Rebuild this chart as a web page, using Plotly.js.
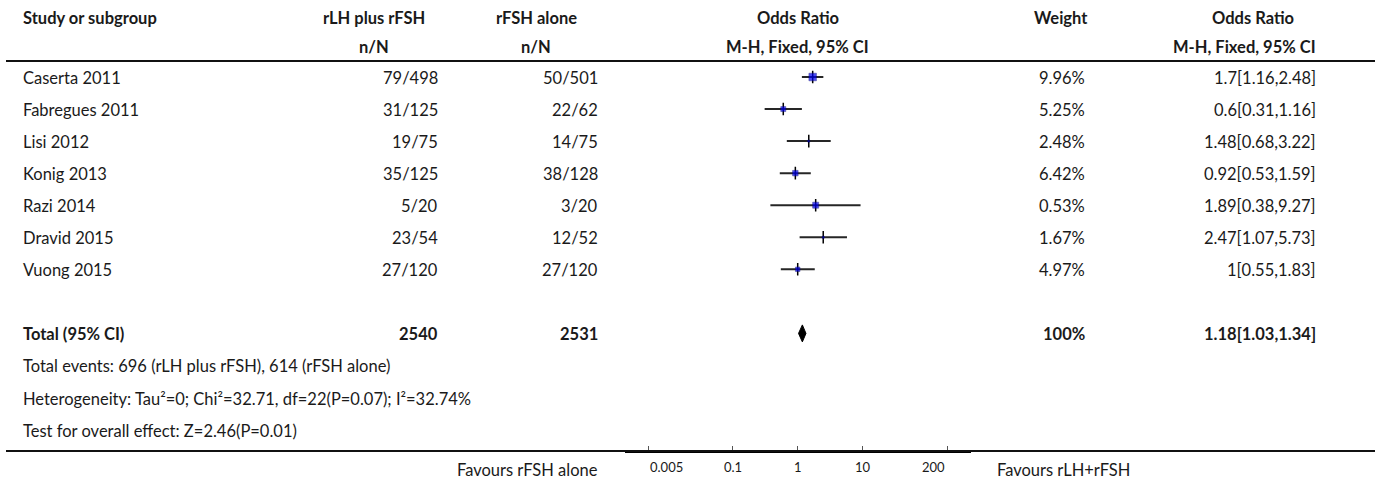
<!DOCTYPE html>
<html>
<head>
<meta charset="utf-8">
<script src="https://cdn.plot.ly/plotly-3.0.1.min.js"></script>
<style>
  html, body { margin: 0; padding: 0; background: #fff; }
  #forest { width: 1375px; height: 482px; }
</style>
</head>
<body>
<div id="forest"></div>
<script>
// ---- study data ----
const studies   = ['Caserta 2011', 'Fabregues 2011', 'Lisi 2012', 'Konig 2013', 'Razi 2014', 'Dravid 2015', 'Vuong 2015'];
const eventsLH  = [79, 31, 19, 35, 5, 23, 27];
const totalLH   = [498, 125, 75, 125, 20, 54, 120];
const eventsFSH = [50, 22, 14, 38, 3, 12, 27];
const totalFSH  = [501, 62, 75, 128, 20, 52, 120];
const weights   = [9.96, 5.25, 2.48, 6.42, 0.53, 1.67, 4.97];
const oddsRatio = [1.7, 0.6, 1.48, 0.92, 1.89, 2.47, 1];
const ciLow     = [1.16, 0.31, 0.68, 0.53, 0.38, 1.07, 0.55];
const ciHigh    = [2.48, 1.16, 3.22, 1.59, 9.27, 5.73, 1.83];

// ---- pooled result ----
const pooledN      = [2540, 2531];
const pooledEvents = [696, 614];
const pooledWeight = 100;
const pooledOR     = [1.18, 1.03, 1.34];   // estimate, lower, upper
const heterogeneity = 'Heterogeneity: Tau\u00b2=0; Chi\u00b2=32.71, df=22(P=0.07); I\u00b2=32.74%';
const overallEffect = 'Test for overall effect: Z=2.46(P=0.01)';

// ---- axis ticks ----
const tickValues = [0.005, 0.1, 1, 10, 200];
const tickLabels = ['0.005', '0.1', '1', '10', '200'];

// ---- styling ----
const W = 1375, H = 482;
const FONT = 'Lato, "Source Sans Pro", "Noto Sans", sans-serif';
const FS = 16.5;
const TXT = '#1a1a1a';
const boxPx = [7.5, 5, 2, 5.5, 6, 2, 4.5];    // drawn box size per study
const tickAnchor = ['left', 'center', 'center', 'center', 'right'];
const ROW0 = 77, ROW_H = 32.05;               // pixel centre of first row, row pitch
const TOP_RULE = 61, AXIS_Y = 451;            // pixel rows of the two rules
const totalRow = studies.length + 1;

const px = v => v / W;
const py = v => 1 - v / H;
const rowAt = p => (p - ROW0) / ROW_H;

const colStudyX = 21, colLH = 440, colFSH = 600, colW = 1087, colOR = 1318;
const hdrLH = 374, hdrFSH = 536, hdrPlot = 797.7, hdrW = 1061, hdrOR = 1253;

// ---- marks ----
const ciX = [], ciY = [];
studies.forEach((s, i) => { ciX.push(ciLow[i], ciHigh[i], null); ciY.push(i, i, null); });
const rows = studies.map((s, i) => i);

const DIA_H = 8.5 / ROW_H;
const traces = [
  { type: 'scatter', mode: 'lines', x: ciX, y: ciY, hoverinfo: 'skip',
    line: { color: '#262626', width: 2 } },
  { type: 'scatter', mode: 'markers', x: oddsRatio, y: rows, hoverinfo: 'skip',
    marker: { symbol: 'line-ns', size: 9, line: { color: '#000', width: 1.5 } } },
  { type: 'scatter', mode: 'markers', x: oddsRatio, y: rows, hoverinfo: 'skip',
    marker: { symbol: 'square', size: boxPx, color: '#0000f0', line: { color: '#00007a', width: 0.6 } } },
  { type: 'scatter', mode: 'lines', fill: 'toself', fillcolor: '#000', hoverinfo: 'skip',
    x: [pooledOR[1], pooledOR[0], pooledOR[2], pooledOR[0], pooledOR[1]],
    y: [totalRow, totalRow - DIA_H, totalRow, totalRow + DIA_H, totalRow],
    line: { color: '#000', width: 1 } }
];

// ---- text ----
const ann = [];
function txt(text, x, y, anchor) {
  ann.push({
    text, x: px(x), y, xref: 'paper', yref: 'y', xanchor: anchor, yanchor: 'middle',
    showarrow: false, font: { family: FONT, size: FS, color: TXT }, yshift: -1
  });
}
function hdr(text, x, pyv, anchor) {
  ann.push({ text: '<b>' + text + '</b>', x: px(x), y: py(pyv), xref: 'paper', yref: 'paper',
    xanchor: anchor, yanchor: 'middle', showarrow: false,
    font: { family: FONT, size: FS, color: TXT } });
}

hdr('Study or subgroup', colStudyX, 18, 'left');
hdr('rLH plus rFSH', hdrLH, 18, 'center');
hdr('n/N', hdrLH, 47, 'center');
hdr('rFSH alone', hdrFSH, 18, 'center');
hdr('n/N', hdrFSH, 47, 'center');
hdr('Odds Ratio', hdrPlot, 18, 'center');
hdr('M-H, Fixed, 95% CI', hdrPlot, 47, 'center');
hdr('Weight', hdrW, 18, 'center');
hdr('Odds Ratio', hdrOR, 18, 'center');
hdr('M-H, Fixed, 95% CI', colOR, 47, 'right');

studies.forEach((s, i) => {
  txt(s, colStudyX, i, 'left');
  txt(eventsLH[i] + '/' + totalLH[i], colLH, i, 'right');
  txt(eventsFSH[i] + '/' + totalFSH[i], colFSH, i, 'right');
  txt(weights[i] + '%', colW, i, 'right');
  txt(oddsRatio[i] + '[' + ciLow[i] + ',' + ciHigh[i] + ']', colOR, i, 'right');
});

txt('<b>Total (95% CI)</b>', colStudyX, totalRow, 'left');
txt('<b>' + pooledN[0] + '</b>', colLH, totalRow, 'right');
txt('<b>' + pooledN[1] + '</b>', colFSH, totalRow, 'right');
txt('<b>' + pooledWeight + '%</b>', colW, totalRow, 'right');
txt('<b>' + pooledOR[0] + '[' + pooledOR[1] + ',' + pooledOR[2] + ']</b>', colOR, totalRow, 'right');
txt('Total events: ' + pooledEvents[0] + ' (rLH plus rFSH), ' + pooledEvents[1] + ' (rFSH alone)', colStudyX, totalRow + 1, 'left');
txt(heterogeneity, colStudyX, totalRow + 2, 'left');
txt(overallEffect, colStudyX, totalRow + 3, 'left');

// tick labels under the log axis
tickValues.forEach((v, i) => {
  ann.push({ text: tickLabels[i], x: Math.log10(v), y: py(466.5), xref: 'x', yref: 'paper',
    xanchor: tickAnchor[i], yanchor: 'middle', showarrow: false,
    font: { family: FONT, size: 13, color: TXT } });
});
ann.push({ text: 'Favours rFSH alone', x: px(colFSH), y: py(470), xref: 'paper', yref: 'paper',
  xanchor: 'right', yanchor: 'middle', showarrow: false, font: { family: FONT, size: FS, color: TXT } });
ann.push({ text: 'Favours rLH+rFSH', x: px(995), y: py(470), xref: 'paper', yref: 'paper',
  xanchor: 'left', yanchor: 'middle', showarrow: false, font: { family: FONT, size: FS, color: TXT } });

const shapes = [
  { type: 'line', xref: 'paper', yref: 'paper', x0: px(6), x1: 1, y0: py(TOP_RULE), y1: py(TOP_RULE),
    line: { color: '#111', width: 2 } },
  { type: 'line', xref: 'paper', yref: 'paper', x0: px(6), x1: 1, y0: py(AXIS_Y), y1: py(AXIS_Y),
    line: { color: '#111', width: 2 } },
  { type: 'line', xref: 'x', yref: 'y domain', x0: 0, x1: 0, y0: 0, y1: 1, layer: 'below',
    line: { color: '#a3a3a3', width: 2 } }
];

const layout = {
  width: W, height: H,
  margin: { l: 0, r: 0, t: 0, b: 0 },
  paper_bgcolor: '#fff', plot_bgcolor: '#fff',
  showlegend: false,
  xaxis: {
    type: 'log', range: [-2.66, 2.66], domain: [px(624.8), px(970.6)],
    showgrid: false, zeroline: false, showline: true, linecolor: '#000', linewidth: 2,
    ticks: 'inside', ticklen: 5, tickwidth: 1, tickcolor: '#555',
    tickvals: tickValues, showticklabels: false, fixedrange: true
  },
  yaxis: {
    range: [rowAt(AXIS_Y), rowAt(TOP_RULE)], domain: [py(AXIS_Y), py(TOP_RULE)],
    visible: false, showgrid: false, zeroline: false, fixedrange: true
  },
  shapes, annotations: ann
};

Plotly.newPlot('forest', traces, layout, { staticPlot: true, displayModeBar: false });
</script>
</body>
</html>
